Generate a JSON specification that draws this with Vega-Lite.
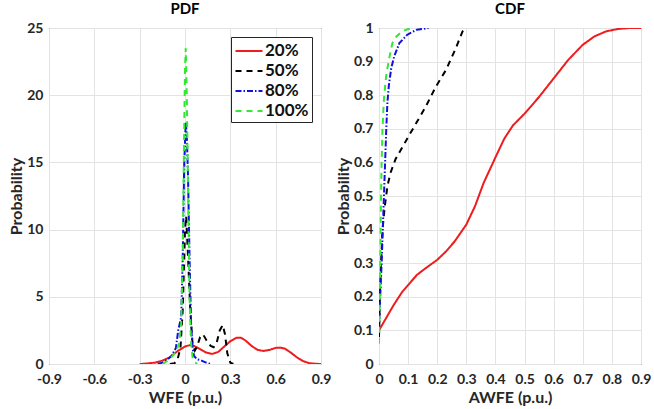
{
  "$schema": "https://vega.github.io/schema/vega-lite/v6.json",
  "background": "white",
  "padding": {"left": 8, "top": 1, "right": 0, "bottom": 0},
  "datasets": {
    "pdf": [
      {"s": "20%", "x": -0.3, "y": 0}, {"s": "20%", "x": -0.27, "y": 0.02}, {"s": "20%", "x": -0.2, "y": 0.1}, {"s": "20%", "x": -0.15, "y": 0.25}, {"s": "20%", "x": -0.1, "y": 0.5}, {"s": "20%", "x": -0.05, "y": 0.95}, {"s": "20%", "x": 0, "y": 1.3}, {"s": "20%", "x": 0.03, "y": 1.4}, {"s": "20%", "x": 0.06, "y": 1.35}, {"s": "20%", "x": 0.1, "y": 1.1}, {"s": "20%", "x": 0.14, "y": 0.85}, {"s": "20%", "x": 0.18, "y": 0.75}, {"s": "20%", "x": 0.22, "y": 0.9}, {"s": "20%", "x": 0.26, "y": 1.3}, {"s": "20%", "x": 0.3, "y": 1.7}, {"s": "20%", "x": 0.34, "y": 1.95}, {"s": "20%", "x": 0.37, "y": 1.95}, {"s": "20%", "x": 0.4, "y": 1.75}, {"s": "20%", "x": 0.44, "y": 1.35}, {"s": "20%", "x": 0.48, "y": 1.05}, {"s": "20%", "x": 0.52, "y": 0.97}, {"s": "20%", "x": 0.56, "y": 1.05}, {"s": "20%", "x": 0.6, "y": 1.2}, {"s": "20%", "x": 0.63, "y": 1.22}, {"s": "20%", "x": 0.66, "y": 1.15}, {"s": "20%", "x": 0.7, "y": 0.85}, {"s": "20%", "x": 0.74, "y": 0.5}, {"s": "20%", "x": 0.78, "y": 0.22}, {"s": "20%", "x": 0.82, "y": 0.07}, {"s": "20%", "x": 0.86, "y": 0.02}, {"s": "20%", "x": 0.9, "y": 0},
      {"s": "50%", "x": -0.1, "y": 0}, {"s": "50%", "x": -0.07, "y": 0.05}, {"s": "50%", "x": -0.05, "y": 0.3}, {"s": "50%", "x": -0.03, "y": 1.2}, {"s": "50%", "x": -0.015, "y": 4}, {"s": "50%", "x": 0, "y": 10}, {"s": "50%", "x": 0.008, "y": 11}, {"s": "50%", "x": 0.02, "y": 8}, {"s": "50%", "x": 0.035, "y": 4}, {"s": "50%", "x": 0.05, "y": 1.5}, {"s": "50%", "x": 0.065, "y": 1.0}, {"s": "50%", "x": 0.08, "y": 1.3}, {"s": "50%", "x": 0.1, "y": 2.0}, {"s": "50%", "x": 0.12, "y": 2.2}, {"s": "50%", "x": 0.14, "y": 1.8}, {"s": "50%", "x": 0.17, "y": 1.35}, {"s": "50%", "x": 0.19, "y": 1.25}, {"s": "50%", "x": 0.21, "y": 1.6}, {"s": "50%", "x": 0.23, "y": 2.5}, {"s": "50%", "x": 0.25, "y": 2.9}, {"s": "50%", "x": 0.265, "y": 2.2}, {"s": "50%", "x": 0.28, "y": 0.8}, {"s": "50%", "x": 0.3, "y": 0.1}, {"s": "50%", "x": 0.32, "y": 0},
      {"s": "80%", "x": -0.18, "y": 0}, {"s": "80%", "x": -0.15, "y": 0.1}, {"s": "80%", "x": -0.12, "y": 0.3}, {"s": "80%", "x": -0.09, "y": 0.6}, {"s": "80%", "x": -0.06, "y": 1.2}, {"s": "80%", "x": -0.045, "y": 2.5}, {"s": "80%", "x": -0.035, "y": 3.0}, {"s": "80%", "x": -0.025, "y": 3.5}, {"s": "80%", "x": -0.015, "y": 8}, {"s": "80%", "x": -0.005, "y": 15}, {"s": "80%", "x": 0.005, "y": 18}, {"s": "80%", "x": 0.012, "y": 17}, {"s": "80%", "x": 0.02, "y": 14}, {"s": "80%", "x": 0.03, "y": 8}, {"s": "80%", "x": 0.04, "y": 3}, {"s": "80%", "x": 0.05, "y": 1.2}, {"s": "80%", "x": 0.06, "y": 0.6}, {"s": "80%", "x": 0.08, "y": 0.35}, {"s": "80%", "x": 0.1, "y": 0.3}, {"s": "80%", "x": 0.12, "y": 0.2}, {"s": "80%", "x": 0.14, "y": 0.1}, {"s": "80%", "x": 0.17, "y": 0},
      {"s": "100%", "x": -0.15, "y": 0}, {"s": "100%", "x": -0.12, "y": 0.2}, {"s": "100%", "x": -0.09, "y": 0.5}, {"s": "100%", "x": -0.06, "y": 0.9}, {"s": "100%", "x": -0.04, "y": 1.5}, {"s": "100%", "x": -0.025, "y": 3}, {"s": "100%", "x": -0.015, "y": 8}, {"s": "100%", "x": -0.007, "y": 16}, {"s": "100%", "x": 0, "y": 22}, {"s": "100%", "x": 0.005, "y": 23.5}, {"s": "100%", "x": 0.012, "y": 20}, {"s": "100%", "x": 0.02, "y": 13}, {"s": "100%", "x": 0.03, "y": 5}, {"s": "100%", "x": 0.04, "y": 1.5}, {"s": "100%", "x": 0.05, "y": 0.5}, {"s": "100%", "x": 0.06, "y": 0.2}, {"s": "100%", "x": 0.08, "y": 0}
    ],
    "cdf": [
      {"s": "20%", "x": 0, "y": 0.1}, {"s": "20%", "x": 0.02, "y": 0.13}, {"s": "20%", "x": 0.05, "y": 0.175}, {"s": "20%", "x": 0.08, "y": 0.215}, {"s": "20%", "x": 0.1, "y": 0.235}, {"s": "20%", "x": 0.13, "y": 0.265}, {"s": "20%", "x": 0.16, "y": 0.285}, {"s": "20%", "x": 0.2, "y": 0.31}, {"s": "20%", "x": 0.23, "y": 0.335}, {"s": "20%", "x": 0.26, "y": 0.365}, {"s": "20%", "x": 0.3, "y": 0.415}, {"s": "20%", "x": 0.33, "y": 0.47}, {"s": "20%", "x": 0.36, "y": 0.54}, {"s": "20%", "x": 0.4, "y": 0.615}, {"s": "20%", "x": 0.43, "y": 0.67}, {"s": "20%", "x": 0.46, "y": 0.71}, {"s": "20%", "x": 0.5, "y": 0.745}, {"s": "20%", "x": 0.55, "y": 0.795}, {"s": "20%", "x": 0.6, "y": 0.85}, {"s": "20%", "x": 0.65, "y": 0.905}, {"s": "20%", "x": 0.7, "y": 0.95}, {"s": "20%", "x": 0.74, "y": 0.975}, {"s": "20%", "x": 0.78, "y": 0.99}, {"s": "20%", "x": 0.82, "y": 0.997}, {"s": "20%", "x": 0.86, "y": 1.0}, {"s": "20%", "x": 0.9, "y": 1.0},
      {"s": "50%", "x": 0, "y": 0.08}, {"s": "50%", "x": 0.003, "y": 0.2}, {"s": "50%", "x": 0.007, "y": 0.3}, {"s": "50%", "x": 0.012, "y": 0.4}, {"s": "50%", "x": 0.02, "y": 0.47}, {"s": "50%", "x": 0.029, "y": 0.53}, {"s": "50%", "x": 0.04, "y": 0.57}, {"s": "50%", "x": 0.057, "y": 0.61}, {"s": "50%", "x": 0.08, "y": 0.645}, {"s": "50%", "x": 0.103, "y": 0.68}, {"s": "50%", "x": 0.13, "y": 0.72}, {"s": "50%", "x": 0.16, "y": 0.765}, {"s": "50%", "x": 0.195, "y": 0.825}, {"s": "50%", "x": 0.23, "y": 0.875}, {"s": "50%", "x": 0.264, "y": 0.94}, {"s": "50%", "x": 0.287, "y": 0.99}, {"s": "50%", "x": 0.295, "y": 1.0},
      {"s": "80%", "x": 0, "y": 0.1}, {"s": "80%", "x": 0.004, "y": 0.2}, {"s": "80%", "x": 0.009, "y": 0.3}, {"s": "80%", "x": 0.013, "y": 0.4}, {"s": "80%", "x": 0.017, "y": 0.5}, {"s": "80%", "x": 0.021, "y": 0.6}, {"s": "80%", "x": 0.025, "y": 0.7}, {"s": "80%", "x": 0.029, "y": 0.78}, {"s": "80%", "x": 0.034, "y": 0.83}, {"s": "80%", "x": 0.042, "y": 0.88}, {"s": "80%", "x": 0.052, "y": 0.915}, {"s": "80%", "x": 0.07, "y": 0.955}, {"s": "80%", "x": 0.097, "y": 0.98}, {"s": "80%", "x": 0.13, "y": 0.995}, {"s": "80%", "x": 0.17, "y": 1.0},
      {"s": "100%", "x": 0, "y": 0.06}, {"s": "100%", "x": 0.003, "y": 0.2}, {"s": "100%", "x": 0.005, "y": 0.35}, {"s": "100%", "x": 0.007, "y": 0.5}, {"s": "100%", "x": 0.009, "y": 0.6}, {"s": "100%", "x": 0.012, "y": 0.7}, {"s": "100%", "x": 0.017, "y": 0.79}, {"s": "100%", "x": 0.025, "y": 0.86}, {"s": "100%", "x": 0.035, "y": 0.91}, {"s": "100%", "x": 0.046, "y": 0.955}, {"s": "100%", "x": 0.06, "y": 0.975}, {"s": "100%", "x": 0.08, "y": 0.99}, {"s": "100%", "x": 0.1, "y": 0.997}, {"s": "100%", "x": 0.12, "y": 1.0}
    ]
  },
  "hconcat": [
    {
      "width": 272,
      "height": 336,
      "title": "PDF",
      "data": {"name": "pdf"},
      "mark": {"type": "line", "strokeWidth": 2, "clip": true},
      "encoding": {
        "x": {"field": "x", "type": "quantitative", "scale": {"domain": [-0.9, 0.9], "nice": false, "zero": false},
              "axis": {"title": "WFE (p.u.)", "values": [-0.9, -0.6, -0.3, 0, 0.3, 0.6, 0.9],
                       "labelExpr": "datum.value < 0 ? '-' + format(-datum.value, '~g') : format(datum.value, '~g')"}},
        "y": {"field": "y", "type": "quantitative", "scale": {"domain": [0, 25], "nice": false},
              "axis": {"title": "Probability", "values": [0, 5, 10, 15, 20, 25]}},
        "color": {"field": "s", "type": "nominal",
                  "scale": {"domain": ["20%", "50%", "80%", "100%"], "range": ["#ee1c1c", "#000000", "#1010e0", "#33e833"]},
                  "legend": {"orient": "top-right", "offset": 9, "title": null, "fillColor": "white", "strokeColor": "#262626",
                             "padding": 3, "labelFont": "Lato", "labelFontWeight": "bold", "labelFontSize": 17, "labelColor": "#111",
                             "symbolType": "M-1.35,0H1.35", "symbolSize": 400, "symbolStrokeWidth": 2, "rowPadding": 1, "labelOffset": 5, "symbolOffset": 4}},
        "strokeDash": {"field": "s", "type": "nominal",
                       "scale": {"domain": ["20%", "50%", "80%", "100%"], "range": [[1, 0], [6, 5], [6, 2, 1.5, 2], [6, 5]]},
                       "legend": {"orient": "top-right", "offset": 9, "title": null, "fillColor": "white", "strokeColor": "#262626",
                             "padding": 3, "labelFont": "Lato", "labelFontWeight": "bold", "labelFontSize": 17, "labelColor": "#111",
                             "symbolType": "M-1.35,0H1.35", "symbolSize": 400, "symbolStrokeWidth": 2, "rowPadding": 1, "labelOffset": 5, "symbolOffset": 4}}
      }
    },
    {
      "width": 262,
      "height": 336,
      "title": "CDF",
      "data": {"name": "cdf"},
      "mark": {"type": "line", "strokeWidth": 2, "clip": true},
      "encoding": {
        "x": {"field": "x", "type": "quantitative", "scale": {"domain": [0, 0.9], "nice": false, "zero": false},
              "axis": {"title": "AWFE (p.u.)", "values": [0, 0.1, 0.2, 0.3, 0.4, 0.5, 0.6, 0.7, 0.8, 0.9], "format": "~g"}},
        "y": {"field": "y", "type": "quantitative", "scale": {"domain": [0, 1], "nice": false},
              "axis": {"title": "Probability", "values": [0, 0.1, 0.2, 0.3, 0.4, 0.5, 0.6, 0.7, 0.8, 0.9, 1], "format": "~g"}},
        "color": {"field": "s", "type": "nominal",
                  "scale": {"domain": ["20%", "50%", "80%", "100%"], "range": ["#ee1c1c", "#000000", "#1010e0", "#33e833"]},
                  "legend": null},
        "strokeDash": {"field": "s", "type": "nominal",
                       "scale": {"domain": ["20%", "50%", "80%", "100%"], "range": [[1, 0], [6, 5], [6, 2, 1.5, 2], [6, 5]]},
                       "legend": null}
      }
    }
  ],
  "resolve": {"scale": {"color": "independent", "strokeDash": "independent"}, "legend": {"color": "independent", "strokeDash": "independent"}},
  "config": {
    "view": {"stroke": "#262626", "strokeWidth": 1},
    "concat": {"spacing": 2},
    "axis": {"labelFont": "Lato", "labelFontWeight": "bold", "labelFontSize": 14, "labelColor": "#262626",
             "titleFont": "Lato", "titleFontWeight": "bold", "titleFontSize": 16, "titleColor": "#262626",
             "grid": true, "gridColor": "#e3e3e3", "domain": false, "ticks": false, "labelPadding": 6, "titlePadding": 2,
             "labelOverlap": false, "labelBound": false, "labelFlush": false},
    "axisX": {"labelPadding": 8, "titlePadding": 3},
    "title": {"font": "Lato", "fontWeight": "bold", "fontSize": 15, "color": "#000", "offset": 4}
  }
}
